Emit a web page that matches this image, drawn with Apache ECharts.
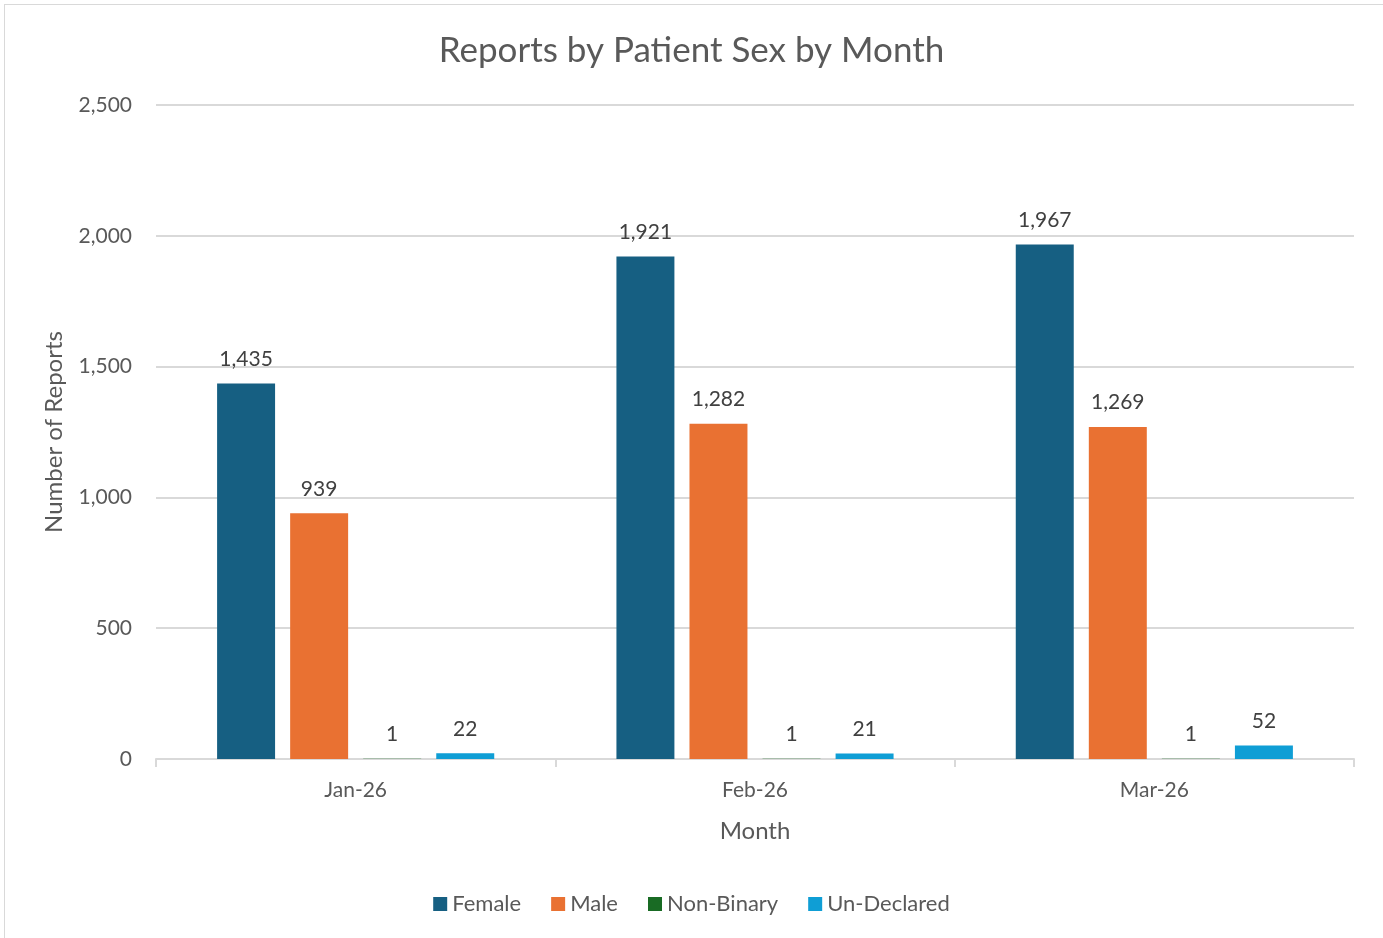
<!DOCTYPE html>
<html>
<head>
<meta charset="utf-8">
<script src="https://cdn.jsdelivr.net/npm/echarts@6/dist/echarts.min.js"></script>
<style>
    html, body { margin: 0; padding: 0; background: #fff; }
    #frame { position: absolute; left: 4px; top: 4px; width: 1385px; height: 940px; border: 1px solid #d9d9d9; box-sizing: border-box; }
    #chart { position: absolute; left: 0; top: 0; width: 1383px; height: 938px; }
</style>
</head>
<body>
<div id="frame"></div>
<div id="chart"></div>
<script>
    const months = ['Jan-26', 'Feb-26', 'Mar-26']
    const female = [1435, 1921, 1967]
    const male = [939, 1282, 1269]
    const nonBinary = [1, 1, 1]
    const unDeclared = [22, 21, 52]
    const yTicks = [0, 500, 1000, 1500, 2000, 2500]

    const font = 'Lato, "Noto Sans", sans-serif'
    const colors = ['#165f82', '#e97132', '#196b24', '#0f9ed5']

    const label = {
        show: true,
        position: 'top',
        distance: 14,
        color: '#404040',
        fontSize: 21,
        fontFamily: font,
        formatter: p => p.value.toLocaleString('en-US')
    }

    function bar(name, data, color) {
        return {
            name: name,
            type: 'bar',
            data: data,
            barGap: '26%',
            barCategoryGap: '30.6%',
            itemStyle: {color: color},
            label: label
        }
    }

    const chart = echarts.init(document.getElementById('chart'))
    chart.setOption({
        animation: false,
        title: {
            text: 'Reports by Patient Sex by Month',
            left: 'center',
            top: 28,
            textStyle: {color: '#595959', fontSize: 35, fontWeight: 'normal', fontFamily: font}
        },
        legend: {
            bottom: 18,
            left: 'center',
            icon: 'rect',
            itemWidth: 14,
            itemHeight: 14,
            itemGap: 30,
            textStyle: {color: '#595959', fontSize: 22, fontFamily: font},
            data: ['Female', 'Male', 'Non-Binary', 'Un-Declared']
        },
        grid: {left: 156, right: 29, top: 105, bottom: 179},
        xAxis: {
            type: 'category',
            data: months,
            name: 'Month',
            nameLocation: 'middle',
            nameGap: 60,
            nameTextStyle: {color: '#595959', fontSize: 24, fontFamily: font},
            axisLine: {lineStyle: {color: '#d9d9d9', width: 2}},
            axisTick: {show: true, length: 8, lineStyle: {color: '#d9d9d9', width: 2}},
            axisLabel: {color: '#595959', fontSize: 21, fontFamily: font, margin: 21}
        },
        yAxis: {
            type: 'value',
            min: yTicks[0],
            max: yTicks[yTicks.length - 1],
            interval: 500,
            name: 'Number of Reports',
            nameLocation: 'middle',
            nameGap: 90,
            nameTextStyle: {color: '#595959', fontSize: 24, fontFamily: font},
            axisLine: {show: false},
            axisTick: {show: false},
            axisLabel: {color: '#595959', fontSize: 21, fontFamily: font, margin: 24,
                formatter: v => v.toLocaleString('en-US')},
            splitLine: {lineStyle: {color: '#d9d9d9', width: 2}}
        },
        series: [
            bar('Female', female, colors[0]),
            bar('Male', male, colors[1]),
            bar('Non-Binary', nonBinary, colors[2]),
            bar('Un-Declared', unDeclared, colors[3])
        ]
    })
</script>
</body>
</html>
